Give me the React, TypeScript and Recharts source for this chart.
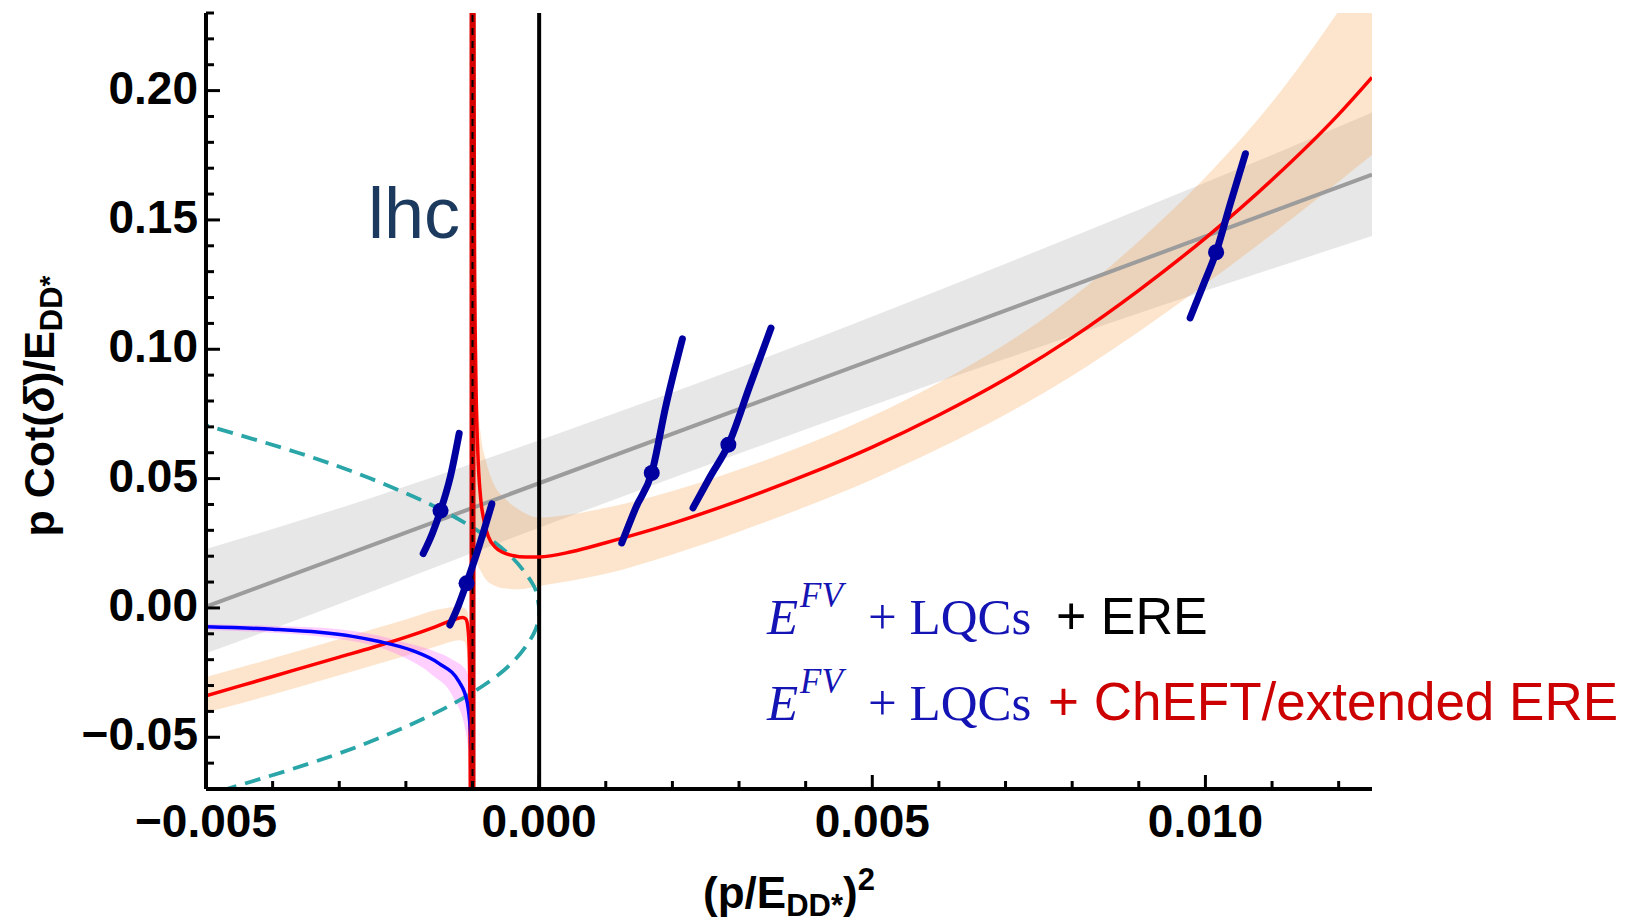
import React from 'react';
import { ComposedChart, XAxis, YAxis, Line, Area, Scatter, ReferenceLine } from 'recharts';

// ---------- data ----------
const X_DOMAIN: [number, number] = [-0.005, 0.0125];
const Y_DOMAIN: [number, number] = [-0.07, 0.23];
const xTicks = [-0.005, -0.004, -0.003, -0.002, -0.001, 0, 0.001, 0.002, 0.003, 0.004, 0.005, 0.006, 0.007, 0.008, 0.009, 0.01, 0.011, 0.012];
const yTicks = [-0.07, -0.06, -0.05, -0.04, -0.03, -0.02, -0.01, 0, 0.01, 0.02, 0.03, 0.04, 0.05, 0.06, 0.07, 0.08, 0.09, 0.1, 0.11, 0.12, 0.13, 0.14, 0.15, 0.16, 0.17, 0.18, 0.19, 0.2, 0.21, 0.22, 0.23];

const lhcX = -0.001;
const thresholdX = 0;

// ERE fit (gray)
const ereLine = [[-0.005, 0.0005], [0.0125, 0.1675]];
const ereBand = [
  [-0.005, -0.0175, 0.0228], [-0.003, 0.0015, 0.0385], [-0.001, 0.0212, 0.0558], [0.001, 0.0407, 0.074],
  [0.003, 0.0597, 0.0929], [0.005, 0.0783, 0.1127], [0.007, 0.0963, 0.1331], [0.009, 0.1139, 0.1539],
  [0.011, 0.1311, 0.1751], [0.0125, 0.1438, 0.1915],
];

// ChEFT / extended ERE (red)
const redRight = [
  [-0.00099, 0.30], [-0.00097, 0.14], [-0.00095, 0.09], [-0.00092, 0.06], [-0.00088, 0.043], [-0.00083, 0.034],
  [-0.00076, 0.0275], [-0.00066, 0.0235], [-0.00055, 0.0215], [-0.0004, 0.0203], [-0.0002, 0.0197], [0, 0.0197],
  [0.0005, 0.0218], [0.001, 0.0252], [0.0015, 0.0288], [0.002, 0.0327], [0.003, 0.0415], [0.004, 0.0513],
  [0.005, 0.0622], [0.006, 0.0746], [0.007, 0.0885], [0.008, 0.1045], [0.009, 0.1228], [0.01, 0.143],
  [0.011, 0.1655], [0.012, 0.1908], [0.0125, 0.2051],
];
const redLeft = [
  [-0.005, -0.034], [-0.004, -0.0265], [-0.003, -0.019], [-0.0025, -0.0153], [-0.002, -0.0113], [-0.0016, -0.0077],
  [-0.0013, -0.0047], [-0.0012, -0.0039], [-0.00115, -0.0037], [-0.0011, -0.0043], [-0.00107, -0.0075],
  [-0.00105, -0.016], [-0.00104, -0.035], [-0.00103, -0.09],
];
const redBandRight = [
  [-0.00099, 0.03, 0.3], [-0.00096, 0.022, 0.12], [-0.00092, 0.0165, 0.082], [-0.00088, 0.0145, 0.068],
  [-0.0008, 0.011, 0.057], [-0.0007, 0.009, 0.049], [-0.0005, 0.0075, 0.042], [-0.0003, 0.0072, 0.038],
  [0, 0.0085, 0.035], [0.001, 0.0132, 0.0387], [0.002, 0.0207, 0.0452], [0.003, 0.0295, 0.0535],
  [0.004, 0.0391, 0.0631], [0.005, 0.0497, 0.0742], [0.006, 0.0616, 0.0871], [0.007, 0.0748, 0.102],
  [0.008, 0.0898, 0.12], [0.009, 0.1068, 0.1418], [0.01, 0.1252, 0.1665], [0.011, 0.1445, 0.1955],
  [0.012, 0.1648, 0.2308], [0.0125, 0.1751, 0.25],
];
const redBandLeft = [
  [-0.005, -0.0404, -0.0267], [-0.004, -0.0335, -0.0195], [-0.003, -0.026, -0.012], [-0.002, -0.0185, -0.0045],
  [-0.0015, -0.0145, -0.0005], [-0.0012, -0.0125, 0.0005], [-0.00112, -0.013, 0.0], [-0.00107, -0.02, -0.002],
  [-0.00104, -0.05, -0.012],
];

// blue solid curve with pink band (left of lhc)
const blueLeft = [
  [-0.005, -0.0073], [-0.004, -0.0082], [-0.0033, -0.0094], [-0.0028, -0.011], [-0.0024, -0.013], [-0.0019, -0.0165],
  [-0.0015, -0.0215], [-0.0012, -0.0286], [-0.00108, -0.0364], [-0.00103, -0.048], [-0.00101, -0.057],
];
const bluePoleJump = [[-0.00101, -0.057], [-0.001, -0.0014]];
const pinkBand = [
  [-0.005, -0.0085, -0.0062], [-0.004, -0.0096, -0.007], [-0.003, -0.012, -0.0082], [-0.0024, -0.0152, -0.0108],
  [-0.002, -0.0195, -0.0135], [-0.0016, -0.026, -0.0165], [-0.0013, -0.034, -0.02], [-0.0011, -0.048, -0.024],
  [-0.00102, -0.065, -0.03],
];

// teal dashed curve
const tealCurve = [
  [-0.00519, 0.072], [-0.00362, 0.06], [-0.00253, 0.05], [-0.00163, 0.04], [-0.00093, 0.03], [-0.000424, 0.02],
  [-0.000114, 0.01], [-0.000033, 0.005], [0, -0.0008], [-0.0000173, -0.005], [-0.000083, -0.01], [-0.000361, -0.02],
  [-0.000836, -0.03], [-0.00151, -0.04], [-0.00237, -0.05], [-0.00343, -0.06], [-0.00469, -0.07], [-0.00497, -0.072],
];

// LQC curves (navy) and their central points
const lqcA = [[-0.00174, 0.021], [-0.0016, 0.029], [-0.00148, 0.0376], [-0.00133, 0.051], [-0.0012, 0.0675]];
const lqcB = [[-0.00134, -0.0066], [-0.00121, 0.001], [-0.00109, 0.0095], [-0.0009, 0.024], [-0.00071, 0.0402]];
const lqcC = [[0.00124, 0.0251], [0.00145, 0.0387], [0.00169, 0.0522], [0.0019, 0.0779], [0.00215, 0.104]];
const lqcD = [[0.00231, 0.0387], [0.00257, 0.0509], [0.00284, 0.0631], [0.00316, 0.0857], [0.00348, 0.1082]];
const lqcE = [[0.00977, 0.1121], [0.00997, 0.125], [0.01016, 0.1375], [0.01037, 0.156], [0.0106, 0.1756]];
const lqcDots = [[-0.00148, 0.0376], [-0.00109, 0.0095], [0.00169, 0.0522], [0.00284, 0.0631], [0.01016, 0.1375]];

// ---------- helpers ----------
const pts = (a: number[][]) => a.map(([x, y]) => ({ x, y }));
const band = (a: number[][]) => a.map(([x, lo, hi]) => ({ x, r: [lo, hi] }));

const SANS = "'Liberation Sans', Arial, Helvetica, sans-serif";
const SERIF = "'Liberation Serif', 'DejaVu Serif', 'Times New Roman', serif";
const NAVY = '#0000a0';
const isMajor = (v: number, step: number) => Math.abs(v / step - Math.round(v / step)) < 1e-6;
const fmt = (v: number, d: number) => (v < -1e-9 ? '\u2212' : '') + Math.abs(v).toFixed(d);

const MAJ = 14;
const MIN = 8;

function BottomTick(props: any) {
  const { x, y, payload } = props;
  const v = payload.value;
  const major = isMajor(v, 0.005);
  return (
    <g>
      <line x1={x} x2={x} y1={y} y2={y - (major ? MAJ : MIN)} stroke="#000" strokeWidth={3} />
      {major && (
        <text x={x} y={y + 48} textAnchor="middle" fontFamily={SANS} fontWeight="bold" fontSize={46} fill="#000">
          {fmt(v, 3)}
        </text>
      )}
    </g>
  );
}
function TopTick(props: any) {
  const { x, y, payload } = props;
  const major = isMajor(payload.value, 0.005);
  return <line x1={x} x2={x} y1={y} y2={y + (major ? MAJ : MIN)} stroke="#000" strokeWidth={3} />;
}
function LeftTick(props: any) {
  const { x, y, payload } = props;
  const v = payload.value;
  const major = isMajor(v, 0.05);
  return (
    <g>
      <line x1={x} x2={x + (major ? MAJ : MIN)} y1={y} y2={y} stroke="#000" strokeWidth={3} />
      {major && (
        <text x={x - 8} y={y + 13} textAnchor="end" fontFamily={SANS} fontWeight="bold" fontSize={46} fill="#000">
          {fmt(v, 2)}
        </text>
      )}
    </g>
  );
}
function RightTick(props: any) {
  const { x, y, payload } = props;
  const major = isMajor(payload.value, 0.05);
  return <line x1={x} x2={x - (major ? MAJ : MIN)} y1={y} y2={y} stroke="#000" strokeWidth={3} />;
}

const Dot = (p: any) => <circle cx={p.cx} cy={p.cy} r={8} fill={NAVY} />;

export default function App() {
  const axisLine = { stroke: '#000', strokeWidth: 4 };
  const lqcs = [lqcA, lqcB, lqcC, lqcD, lqcE];
  return (
    <div style={{ position: 'absolute', left: 0, top: 0, width: 1629, height: 924, background: '#fff' }}>
      <ComposedChart width={1629} height={924} margin={{ top: 13, right: 257, bottom: 0, left: 0 }}>
        <XAxis
          dataKey="x" type="number" domain={X_DOMAIN} allowDataOverflow ticks={xTicks} interval={0}
          height={135} tickSize={0} tickMargin={0} tickLine={false} axisLine={axisLine} tick={<BottomTick />}
        />
        <XAxis
          xAxisId="top" orientation="top" dataKey="x" type="number" domain={X_DOMAIN} allowDataOverflow ticks={xTicks}
          interval={0} height={0} tickSize={0} tickMargin={0} tickLine={false} axisLine={axisLine} tick={<TopTick />}
        />
        <YAxis
          type="number" domain={Y_DOMAIN} allowDataOverflow ticks={yTicks} interval={0} width={206}
          tickSize={0} tickMargin={0} tickLine={false} axisLine={axisLine} tick={<LeftTick />}
        />
        <YAxis
          yAxisId="right" orientation="right" type="number" domain={Y_DOMAIN} allowDataOverflow ticks={yTicks}
          interval={0} width={0} tickSize={0} tickMargin={0} tickLine={false} axisLine={axisLine} tick={<RightTick />}
        />

        <Area data={band(ereBand)} dataKey="r" type="monotone" stroke="none" fill="#000" fillOpacity={0.095} isAnimationActive={false} />
        <Area data={band(redBandRight)} dataKey="r" type="monotone" stroke="none" fill="#f7a04a" fillOpacity={0.28} isAnimationActive={false} />
        <Area data={band(redBandLeft)} dataKey="r" type="monotone" stroke="none" fill="#f7a04a" fillOpacity={0.28} isAnimationActive={false} />
        <Area data={band(pinkBand)} dataKey="r" type="monotone" stroke="none" fill="#ff55ff" fillOpacity={0.28} isAnimationActive={false} />

        <Line data={pts(ereLine)} dataKey="y" type="linear" stroke="#9c9c9c" strokeWidth={4} dot={false} isAnimationActive={false} />
        <Line data={pts(tealCurve)} dataKey="y" type="natural" stroke="#2aa5a8" strokeWidth={3.8} strokeDasharray="16 9" dot={false} isAnimationActive={false} />

        <ReferenceLine x={thresholdX} stroke="#000" strokeWidth={4} />

        <Line data={pts(redRight)} dataKey="y" type="monotone" stroke="#ff0000" strokeWidth={3.5} dot={false} isAnimationActive={false} />
        <Line data={pts(redLeft)} dataKey="y" type="monotone" stroke="#ff0000" strokeWidth={3.5} dot={false} isAnimationActive={false} />
        <Line data={pts(blueLeft)} dataKey="y" type="monotone" stroke="#0000ff" strokeWidth={3.5} dot={false} isAnimationActive={false} />
        <Line data={pts(bluePoleJump)} dataKey="y" type="linear" stroke="#0000ff" strokeWidth={3.5} dot={false} isAnimationActive={false} />

        <ReferenceLine x={lhcX} stroke="#d40000" strokeWidth={6} />
        <ReferenceLine x={lhcX} stroke="#000" strokeWidth={2} strokeDasharray="7 6" />

        {lqcs.map((c, i) => (
          <Line key={i} data={pts(c)} dataKey="y" type="monotone" stroke={NAVY} strokeWidth={7} strokeLinecap="round" dot={false} isAnimationActive={false} />
        ))}
        <Scatter data={pts(lqcDots)} dataKey="y" shape={Dot} isAnimationActive={false} />
      </ComposedChart>

      <svg width={1629} height={924} style={{ position: 'absolute', left: 0, top: 0, pointerEvents: 'none' }}>
        <text transform="translate(54 406) rotate(-90)" textAnchor="middle" fontFamily={SANS} fontWeight="bold" fontSize={43} fill="#000">
          p Cot(<tspan fontStyle="italic">δ</tspan>)/E<tspan fontSize={31} dy={8}>DD</tspan><tspan fontSize={28} dy={-3}>*</tspan>
        </text>
        <text x={789} y={908} textAnchor="middle" fontFamily={SANS} fontWeight="bold" fontSize={44} fill="#000">
          (p/E<tspan fontSize={31} dy={8}>DD*</tspan><tspan dy={-8}>)</tspan><tspan fontSize={31} dy={-18}>2</tspan>
        </text>
        <text x={368} y={238} fontFamily={SANS} fontSize={72} fill="#1c3a5e">lhc</text>

        <g fontSize={51}>
          <text x={767} y={634} fontFamily={SERIF} fontStyle="italic" fill="#1414b4">E</text>
          <text x={800} y={607} fontFamily={SERIF} fontStyle="italic" fontSize={35} fill="#1414b4">FV</text>
          <text x={868} y={634} fontFamily={SERIF} fill="#1414b4">+ LQCs</text>
          <text x={1056} y={634} fontFamily={SANS} fontSize={52} fill="#000">+ ERE</text>

          <text x={767} y={720} fontFamily={SERIF} fontStyle="italic" fill="#1414b4">E</text>
          <text x={800} y={693} fontFamily={SERIF} fontStyle="italic" fontSize={35} fill="#1414b4">FV</text>
          <text x={868} y={720} fontFamily={SERIF} fill="#1414b4">+ LQCs</text>
          <text x={1048} y={720} fontFamily={SANS} fontSize={53} fill="#cc0000">+ ChEFT/extended ERE</text>
        </g>
      </svg>
    </div>
  );
}
